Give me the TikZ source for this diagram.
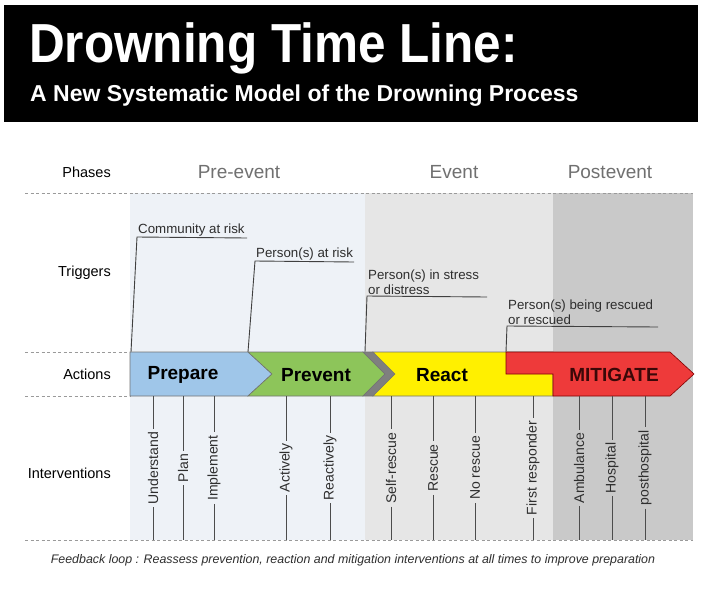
\documentclass[tikz,border=0pt]{standalone}
\usepackage{fontspec}
\setmainfont{Liberation Sans}
\newfontfamily\titlefont[FakeStretch=0.9]{Liberation Sans}
\usepackage{tikz}
\usetikzlibrary{positioning, calc}
\definecolor{prebg}{HTML}{EEF2F7}
\definecolor{eventbg}{HTML}{E6E6E6}
\definecolor{postbg}{HTML}{C9C9C9}
\definecolor{prepareblue}{HTML}{9FC6E9}
\definecolor{preventgreen}{HTML}{8DC55A}
\definecolor{chevrongray}{HTML}{7F7F7F}
\definecolor{reactyellow}{HTML}{FFF000}
\definecolor{mitigatered}{HTML}{EE3A3A}
\definecolor{mitigatedark}{HTML}{3A0808}
\definecolor{phasegray}{HTML}{707070}
\definecolor{textdark}{HTML}{2E2E2E}
\definecolor{ruledash}{HTML}{9A9A9A}

\tikzset{
  rowlabel/.style={anchor=east, inner sep=0pt, font=\fontsize{14.5}{16}\selectfont},
  phaselabel/.style={phasegray, font=\fontsize{19}{21}\selectfont},
  trigger/.style={textdark, anchor=south west, align=left, inner sep=1pt, font=\fontsize{13.3}{15.5}\selectfont},
  triggerline/.style={draw=black!75, line width=0.9pt},
  actionshape/.style={draw=black!55, line width=0.6pt},
  actionlabel/.style={font=\fontsize{19}{21}\selectfont\bfseries},
  interv/.style={rotate=90, inner sep=3pt, textdark, font=\fontsize{14}{15}\selectfont},
  intervline/.style={draw=black!70, line width=0.9pt},
  gridline/.style={ruledash, dash pattern=on 3pt off 2.5pt, line width=1pt},
}

\begin{document}
\begin{tikzpicture}[x=1pt, y=-1pt]
  \useasboundingbox (0,0) rectangle (702,600);
  \fill[white] (0,0) rectangle (702,600);

  % Header
  \fill[black] (4,5) rectangle (698,122);
  \node[white, anchor=base west, inner sep=0pt, font=\titlefont\fontsize{55}{55}\selectfont\bfseries] (title) at (29,62) {Drowning Time Line:};
  \node[white, anchor=base west, inner sep=0pt, font=\fontsize{23}{23}\selectfont\bfseries] (subtitle) at (30,101) {A New Systematic Model of the Drowning Process};

  % Phase backgrounds
  \fill[prebg] (130,193) rectangle (365,540);
  \fill[eventbg] (365,193) rectangle (553,540);
  \fill[postbg] (553,193) rectangle (693,540);

  % Dashed rules
  \draw[gridline] (25,193) -- (693,193);
  \draw[gridline] (25,352) -- (130,352);
  \draw[gridline] (25,396) -- (130,396);
  \draw[gridline] (25,540) -- (693,540);

  % Row labels
  \node[rowlabel] (phases) at (111,172) {Phases};
  \node[rowlabel] (triggers) at (111,273) {Triggers};
  \node[rowlabel] (actions) at (111,374) {Actions};
  \node[rowlabel] (interventions) at (111,473) {Interventions};

  % Phase names
  \node[phaselabel] (preevent) at (239,172) {Pre-event};
  \node[phaselabel] (event) at (454,172) {Event};
  \node[phaselabel] (postevent) at (610,172) {Postevent};

  % Triggers
  \node[trigger] (community) at (137,237) {Community at risk};
  \coordinate (c0) at (131,352);
  \coordinate (c1) at (247,238);
  \draw[triggerline] (c0) -- (community.south west) -- (c1);

  \node[trigger] (personrisk) at (255,261) {Person(s) at risk};
  \coordinate (p0) at (248,352);
  \coordinate (p1) at (354,262);
  \draw[triggerline] (p0) -- (personrisk.south west) -- (p1);

  \node[trigger] (stress) at (367,296) {Person(s) in stress\\or distress};
  \coordinate (s0) at (365,352);
  \coordinate (s1) at (487,297);
  \draw[triggerline] (s0) -- (stress.south west) -- (s1);

  \node[trigger] (rescued) at (507,326) {Person(s) being rescued\\or rescued};
  \coordinate (r0) at (506,352);
  \coordinate (r1) at (658,327);
  \draw[triggerline] (r0) -- (rescued.south west) -- (r1);

  % Actions
  \filldraw[prepareblue, actionshape] (130,352) -- (248,352) -- (272,374) -- (248,396) -- (130,396) -- cycle;
  \filldraw[preventgreen, actionshape] (248,352) -- (363,352) -- (385,374) -- (363,396) -- (248,396) -- (272,374) -- cycle;
  \filldraw[chevrongray, actionshape] (363,352) -- (373,352) -- (395,374) -- (373,396) -- (363,396) -- (385,374) -- cycle;
  \filldraw[reactyellow, actionshape] (373,352) -- (553,352) -- (553,396) -- (373,396) -- (395,374) -- cycle;
  \filldraw[mitigatered, draw=red!50!black, line width=0.6pt] (506,352) -- (670,352) -- (694,374) -- (670,396) -- (553,396) -- (553,374) -- (506,374) -- cycle;

  \node[actionlabel] (prepare) at (183,375) {Prepare};
  \node[actionlabel] (prevent) at (316,375) {Prevent};
  \node[actionlabel] (react) at (442,375) {React};
  \node[actionlabel, mitigatedark] (mitigate) at (614,375) {MITIGATE};

  % Interventions
  \foreach \x/\name/\txt in {153/understand/Understand, 183/plan/Plan, 214/implement/Implement,
      286/actively/Actively, 330/reactively/Reactively, 391/selfrescue/Self-rescue,
      433/rescue/Rescue, 475/norescue/No rescue, 533/firstresp/First responder,
      579/ambulance/Ambulance, 612/hospital/Hospital, 645/posthosp/posthospital} {
    \node[interv] (\name) at (\x,468) {\txt};
    \draw[intervline] (\x,396) -- (\name.east);
    \draw[intervline] (\name.west) -- (\x,540);
  }

  % Feedback loop
  \node[textdark, font=\fontsize{12.4}{14}\selectfont\itshape] (feedback) at (353,560) {Feedback loop : Reassess prevention, reaction and mitigation interventions at all times to improve preparation};
\end{tikzpicture}
\end{document}
